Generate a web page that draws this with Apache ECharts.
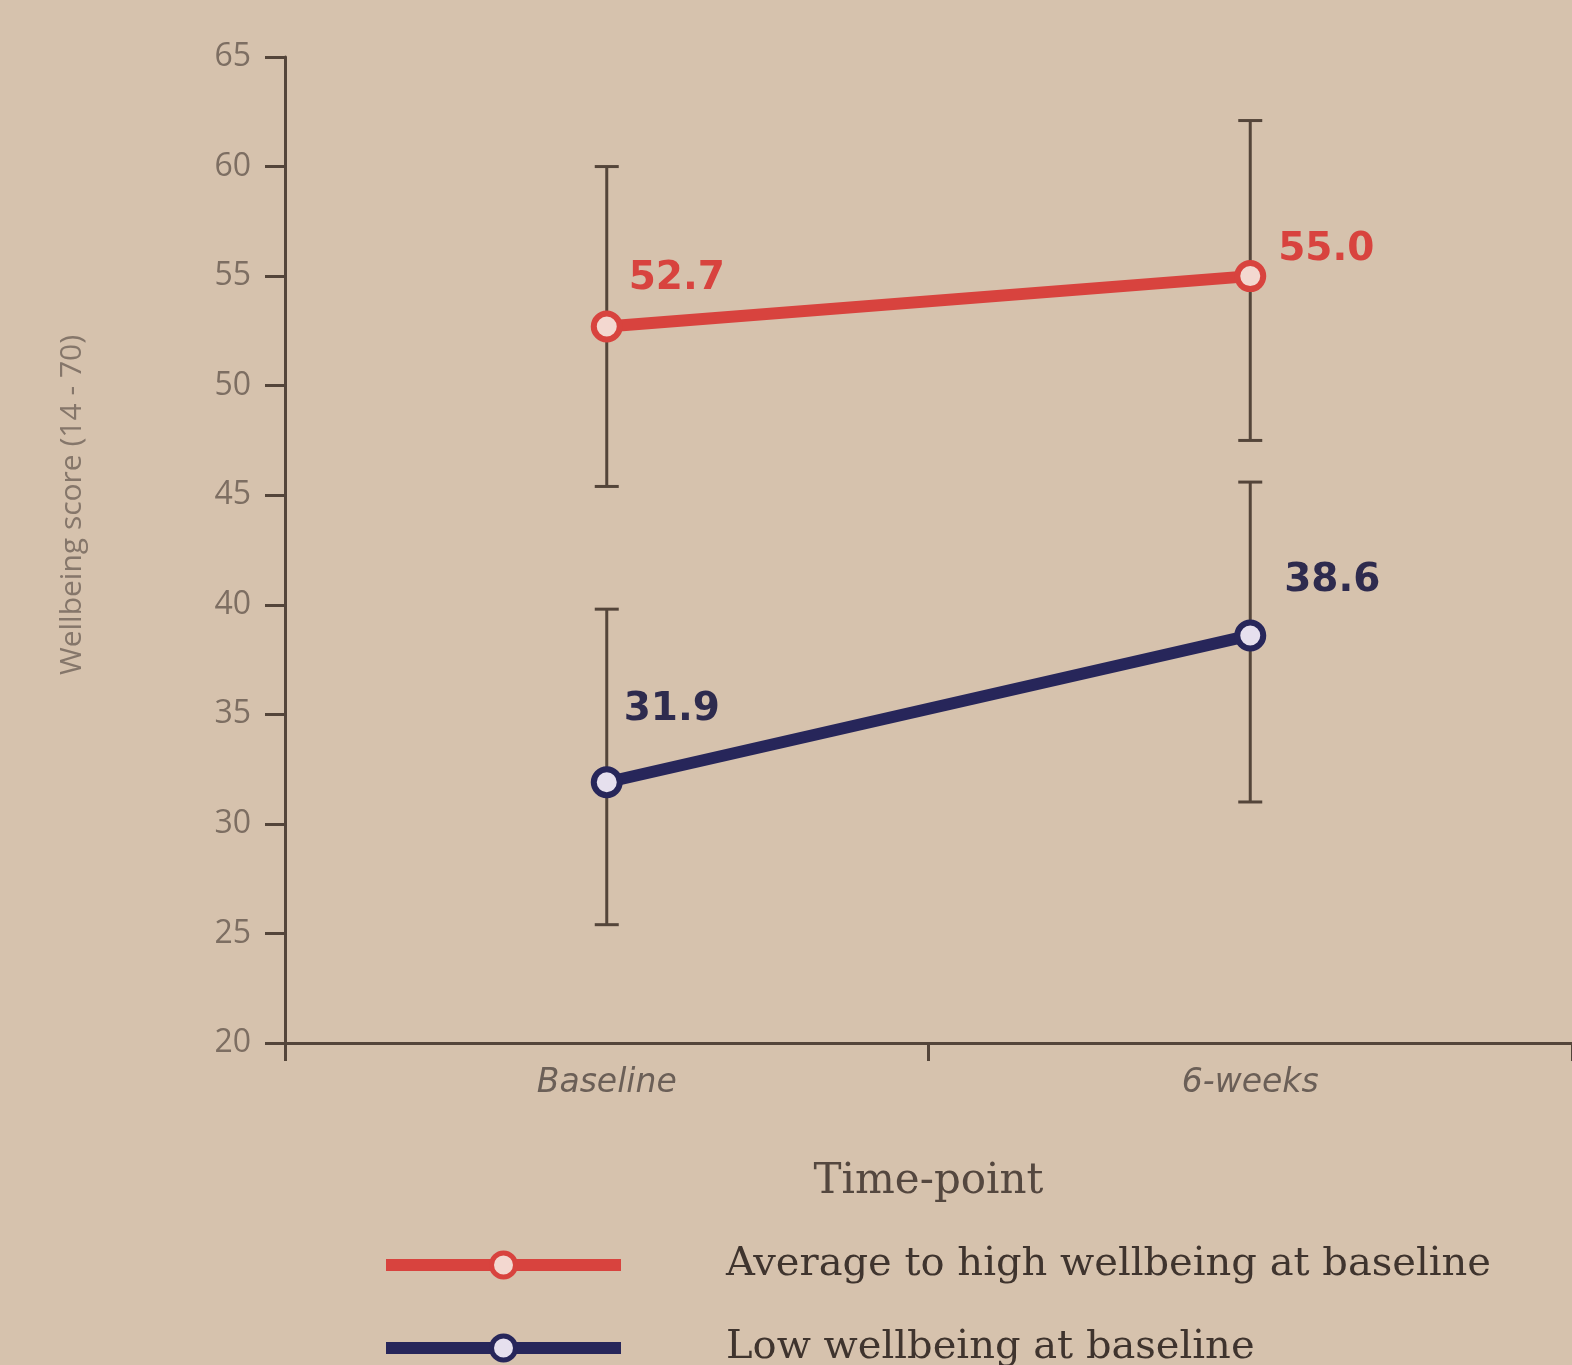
<!DOCTYPE html>
<html>
<head>
<meta charset="utf-8">
<script src="https://cdn.jsdelivr.net/npm/echarts@6/dist/echarts.min.js"></script>
<style>
html,body{margin:0;padding:0;background:#d6c2ad;}
#chart{width:1572px;height:1365px;}
</style>
</head>
<body>
<div id="chart"></div>
<script>
var categories = ['Baseline', '6-weeks'];
var seriesNames = ['Average to high wellbeing at baseline', 'Low wellbeing at baseline'];
var highMeans = [52.7, 55.0];
var lowMeans = [31.9, 38.6];
var highErrLow = [45.4, 47.5];
var highErrHigh = [60.0, 62.1];
var lowErrLow = [25.4, 31.0];
var lowErrHigh = [39.8, 45.6];
var yTicks = [20, 25, 30, 35, 40, 45, 50, 55, 60, 65];

var RED = '#d8433e';
var NAVY = '#27265a';
var BROWN = '#54453a';

function errData(lo, hi) {
  return categories.map(function (c, i) { return [i, lo[i], hi[i]]; });
}
function errRender(params, api) {
  var x = api.value(0);
  var lo = api.coord([x, api.value(1)]);
  var hi = api.coord([x, api.value(2)]);
  var cap = 12;
  var st = { stroke: BROWN, lineWidth: 3 };
  return {
    type: 'group',
    children: [
      { type: 'line', shape: { x1: lo[0], y1: lo[1], x2: hi[0], y2: hi[1] }, style: st },
      { type: 'line', shape: { x1: lo[0] - cap, y1: lo[1], x2: lo[0] + cap, y2: lo[1] }, style: st },
      { type: 'line', shape: { x1: hi[0] - cap, y1: hi[1], x2: hi[0] + cap, y2: hi[1] }, style: st }
    ]
  };
}
function pointData(vals, offsets) {
  return vals.map(function (v, i) {
    return { value: v, label: { offset: offsets[i] } };
  });
}
function legendFor(name, top) {
  return {
    type: 'plain',
    orient: 'vertical',
    left: 380,
    top: top,
    padding: 0,
    itemWidth: 235,
    itemHeight: 30,
    data: [name],
    lineStyle: { width: 12 },
    itemStyle: { borderWidth: 5 },
    textStyle: {
      fontFamily: 'DejaVu Serif',
      fontSize: 40,
      color: '#3f342e',
      padding: [0, 0, 0, 100],
      lineHeight: 36
    }
  };
}

var chart = echarts.init(document.getElementById('chart'), null, { renderer: 'canvas' });
chart.setOption({
  backgroundColor: '#d6c2ad',
  animation: false,
  grid: { left: 285, right: -12, top: 57, bottom: 322 },
  legend: [legendFor(seriesNames[0], 1245), legendFor(seriesNames[1], 1328)],
  xAxis: {
    type: 'category',
    data: categories,
    boundaryGap: true,
    name: 'Time-point',
    nameLocation: 'middle',
    nameGap: 118,
    nameTextStyle: { fontFamily: 'DejaVu Serif', fontSize: 42, color: '#54473f' },
    axisLine: { lineStyle: { color: BROWN, width: 3 } },
    axisTick: { show: true, length: 18, lineStyle: { color: BROWN, width: 3 } },
    axisLabel: { fontFamily: 'DejaVu Sans', fontStyle: 'italic', fontSize: 33, color: '#6b5f57', margin: 24 }
  },
  yAxis: {
    type: 'value',
    min: 20,
    max: 65,
    interval: 5,
    name: 'Wellbeing score (14 - 70)',
    nameLocation: 'middle',
    nameGap: 198,
    nameRotate: 90,
    nameTextStyle: { fontFamily: 'Open Sans', fontSize: 30, color: '#85766a', padding: [0, 0, 0, 90] },
    splitLine: { show: false },
    axisLine: { show: true, lineStyle: { color: BROWN, width: 3 } },
    axisTick: { show: true, length: 20, lineStyle: { color: BROWN, width: 3 } },
    axisLabel: {
      fontFamily: 'Open Sans', fontSize: 32, color: '#7d6e62', margin: 34,
      formatter: function (v) { return yTicks.indexOf(v) >= 0 ? String(v) : ''; }
    }
  },
  series: [
    {
      type: 'custom',
      name: 'errHigh',
      renderItem: errRender,
      data: errData(highErrLow, highErrHigh),
      z: 1,
      silent: true
    },
    {
      type: 'custom',
      name: 'errLow',
      renderItem: errRender,
      data: errData(lowErrLow, lowErrHigh),
      z: 1,
      silent: true
    },
    {
      type: 'line',
      name: seriesNames[0],
      data: pointData(highMeans, [[70, -48], [76, -26]]),
      z: 3,
      color: RED,
      lineStyle: { color: RED, width: 12 },
      symbol: 'circle',
      symbolSize: 26,
      itemStyle: { color: '#f3d8d0', borderColor: RED, borderWidth: 6 },
      label: {
        show: true, position: 'inside', color: RED, fontFamily: 'DejaVu Sans',
        fontWeight: 'bold', fontSize: 39,
        formatter: function (p) { return p.value.toFixed(1); }
      }
    },
    {
      type: 'line',
      name: seriesNames[1],
      data: pointData(lowMeans, [[65, -72], [82, -55]]),
      z: 3,
      color: NAVY,
      lineStyle: { color: NAVY, width: 12 },
      symbol: 'circle',
      symbolSize: 26,
      itemStyle: { color: '#e6e0ee', borderColor: NAVY, borderWidth: 6 },
      label: {
        show: true, position: 'inside', color: '#2e2b4e', fontFamily: 'DejaVu Sans',
        fontWeight: 'bold', fontSize: 39,
        formatter: function (p) { return p.value.toFixed(1); }
      }
    }
  ]
});
</script>
</body>
</html>
